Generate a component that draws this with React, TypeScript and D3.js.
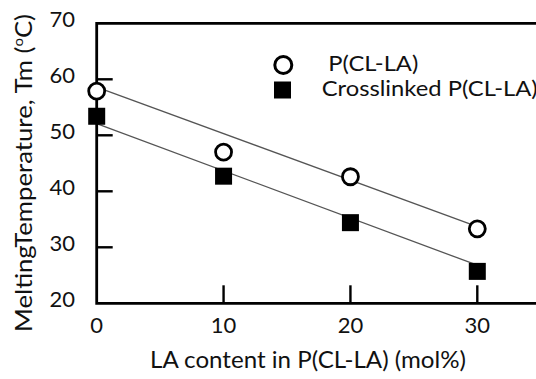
import React from 'react';
import * as d3 from 'd3';

// LA content (mol%)
const LA_CONTENT = [0, 10, 20, 30];
// melting temperature (°C)
const TM_LINEAR = [57.9, 47.0, 42.6, 33.3];
const TM_CROSSLINKED = [53.4, 42.7, 34.4, 25.7];
// fitted lines, end points [x, y]
const FIT_LINEAR: [number, number][] = [[0, 58.6], [30, 33.7]];
const FIT_CROSSLINKED: [number, number][] = [[0, 52.1], [30, 26.8]];

const X_TICKS = [0, 10, 20, 30];
const Y_TICKS = [20, 30, 40, 50, 60, 70];

const LEGEND = ['P(CL-LA)', 'Crosslinked P(CL-LA)'];

const W = 536, H = 379;
const FONT = 'Lato, "Open Sans", sans-serif';

const App: React.FC = () => {
    const x = d3.scaleLinear().domain([0, 30]).range([96.7, 477.3]);
    const y = d3.scaleLinear().domain([20, 70]).range([303.3, 23.3]);

    const line = d3.line<[number, number]>().x(d => x(d[0])).y(d => y(d[1]));

    const left = x(0), right = x(36), top = y(70), bottom = y(20);

    return (
        <svg width={W} height={H} style={{ position: 'absolute', left: 0, top: 0, background: '#fff' }}
            fontFamily={FONT}>
            {/* fitted lines */}
            <path d={line(FIT_LINEAR) || ''} fill="none" stroke="#555" strokeWidth={1.3} />
            <path d={line(FIT_CROSSLINKED) || ''} fill="none" stroke="#555" strokeWidth={1.3} />

            {/* frame */}
            <path d={`M${right},${top}H${left}V${bottom}H${right}`} fill="none" stroke="#000" strokeWidth={2.8} />

            {/* y ticks */}
            {Y_TICKS.filter(t => t > 20 && t < 70).map(t => (
                <line key={'yt' + t} x1={left} x2={left + 16} y1={y(t)} y2={y(t)} stroke="#000" strokeWidth={2.4} />
            ))}
            {Y_TICKS.map(t => (
                <text key={'yl' + t} x={75} y={y(t) + 4} textAnchor="end" fontSize={22} fill="#111">{t}</text>
            ))}

            {/* x ticks */}
            {X_TICKS.filter(t => t > 0).map(t => (
                <line key={'xt' + t} x1={x(t)} x2={x(t)} y1={bottom} y2={bottom - 18} stroke="#000" strokeWidth={2.4} />
            ))}
            {X_TICKS.map(t => (
                <text key={'xl' + t} x={x(t)} y={333} textAnchor="middle" fontSize={22} fill="#111">{t}</text>
            ))}

            {/* data */}
            {LA_CONTENT.map((v, i) => (
                <rect key={'s' + i} x={x(v) - 8.5} y={y(TM_CROSSLINKED[i]) - 8.5} width={17} height={17} fill="#000" />
            ))}
            {LA_CONTENT.map((v, i) => (
                <circle key={'c' + i} cx={x(v)} cy={y(TM_LINEAR[i])} r={8} fill="#fff" stroke="#000" strokeWidth={2.8} />
            ))}

            {/* legend */}
            <circle cx={283.3} cy={65} r={8.5} fill="#fff" stroke="#000" strokeWidth={3} />
            <rect x={274} y={81.5} width={17} height={17} fill="#000" />
            <text x={328.3} y={71} fontSize={22} fill="#111" textLength={90} lengthAdjust="spacingAndGlyphs">{LEGEND[0]}</text>
            <text x={321.7} y={96} fontSize={22} fill="#111" textLength={216} lengthAdjust="spacingAndGlyphs">{LEGEND[1]}</text>

            {/* axis titles */}
            <text x={308} y={368} textAnchor="middle" fontSize={23} fill="#111" textLength={316} lengthAdjust="spacingAndGlyphs">
                LA content in P(CL-LA) (mol%)
            </text>
            <text transform="translate(32,173) rotate(-90)" textAnchor="middle" fontSize={24} fill="#111"
                textLength={318} lengthAdjust="spacingAndGlyphs">
                MeltingTemperature, Tm (<tspan fontSize={14} dy={-9}>o</tspan><tspan dy={9}>C)</tspan>
            </text>
        </svg>
    );
};

export default App;
